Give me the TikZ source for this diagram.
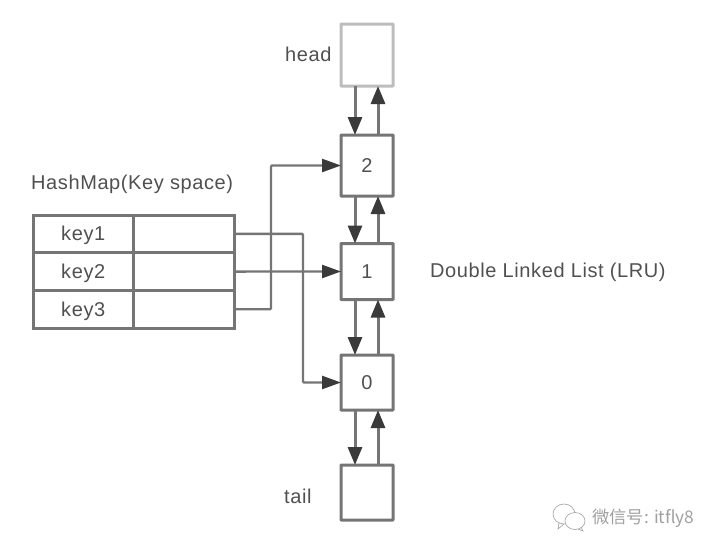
\documentclass[tikz,border=0pt]{standalone}
\usepackage{fontspec}
\setmainfont{Liberation Sans}[LetterSpace=3]
\newfontfamily\cjkfont{Noto Sans CJK SC}
\usetikzlibrary{arrows.meta}
\definecolor{edgegray}{HTML}{757575}
\definecolor{headgray}{HTML}{BDBDBD}
\definecolor{txtgray}{HTML}{505050}
\definecolor{tipgray}{HTML}{3A3A3A}
\definecolor{wmgray}{HTML}{A0A0A0}
\newcommand{\lowered}[1]{\raisebox{-7pt}[0pt][0pt]{#1}}
\tikzset{
  x=1pt,y=-1pt,
  listbox/.style={draw=edgegray,line width=3pt,fill=white,rounded corners=0.6pt,minimum width=52pt,inner sep=0pt,outer sep=0pt,text=txtgray,font=\fontsize{20}{24}\selectfont,anchor=north west},
  cellbox/.style={draw=edgegray,line width=3pt,fill=white,minimum width=100.5pt,minimum height=37.7pt,inner sep=0pt,outer sep=0pt,text=txtgray,font=\fontsize{20}{24}\selectfont,anchor=north west},
  lbl/.style={text=txtgray,font=\fontsize{20}{24}\selectfont,inner sep=0pt},
  link/.style={draw=edgegray,line width=3pt,-{Triangle[length=18pt,width=14pt,color=tipgray]}},
  wire/.style={draw=edgegray,line width=2.4pt,rounded corners=1pt,-{Triangle[length=19pt,width=13pt,color=tipgray]}},
}
\begin{document}
\begin{tikzpicture}
\useasboundingbox (0,0) rectangle (720,552);
\coordinate (dn) at (355,0);
\coordinate (up) at (378,0);
\coordinate (ka) at (303,0);
\coordinate (kc) at (271,0);

\node[listbox,draw=headgray,minimum height=62pt] (head) at (341,24) {};
\node[listbox,minimum height=61pt] (n2) at (341,135) {\lowered{2}};
\node[listbox,minimum height=56pt] (n1) at (341,243.5) {\lowered{1}};
\node[listbox,minimum height=55pt] (n0) at (341,355) {\lowered{0}};
\node[listbox,minimum height=55pt] (tail) at (341,465) {};

\node[cellbox] (k1) at (33,215) {\lowered{key1}};
\node[cellbox] (v1) at (133.5,215) {};
\node[cellbox] (k2) at (33,252.7) {\lowered{key2}};
\node[cellbox] (v2) at (133.5,252.7) {};
\node[cellbox] (k3) at (33,290.4) {\lowered{key3}};
\node[cellbox] (v3) at (133.5,290.4) {};

\node[lbl,anchor=west] (hl) at (285,54) {head};
\node[lbl,anchor=west] (tl) at (284,496) {tail};
\node[lbl,anchor=west] (hm) at (31,184) {HashMap(Key space)};
\node[lbl,anchor=west] (dl) at (430,272) {Double Linked List (LRU)};

\draw[link] (head.south -| dn) -- (n2.north -| dn);
\draw[link] (n2.north -| up) -- (head.south -| up);
\draw[link] (n2.south -| dn) -- (n1.north -| dn);
\draw[link] (n1.north -| up) -- (n2.south -| up);
\draw[link] (n1.south -| dn) -- (n0.north -| dn);
\draw[link] (n0.north -| up) -- (n1.south -| up);
\draw[link] (n0.south -| dn) -- (tail.north -| dn);
\draw[link] (tail.north -| up) -- (n0.south -| up);

\draw[wire] (v1.east) -- (v1.east -| ka) -- (n0.west -| ka) -- (n0.west);
\draw[wire] (v2.east) -- (n1.west);
\draw[wire] (v3.east) -- (v3.east -| kc) -- (n2.west -| kc) -- (n2.west);

% watermark
\draw[wmgray,line width=0.6pt,fill=white] (564,514) ellipse (11 and 10);
\draw[wmgray,line width=0.6pt] (559,523) -- (558,529) -- (564,524);
\draw[wmgray,line width=0.6pt,fill=white] (575,521) ellipse (10 and 8.5);
\draw[wmgray,line width=0.6pt] (578,529) -- (583,531) -- (581,527);
\node[text=wmgray,font=\cjkfont\fontsize{17.3}{20}\selectfont,inner sep=0pt,anchor=west] (wm) at (592,518) {微信号: itfly8};
\end{tikzpicture}
\end{document}
